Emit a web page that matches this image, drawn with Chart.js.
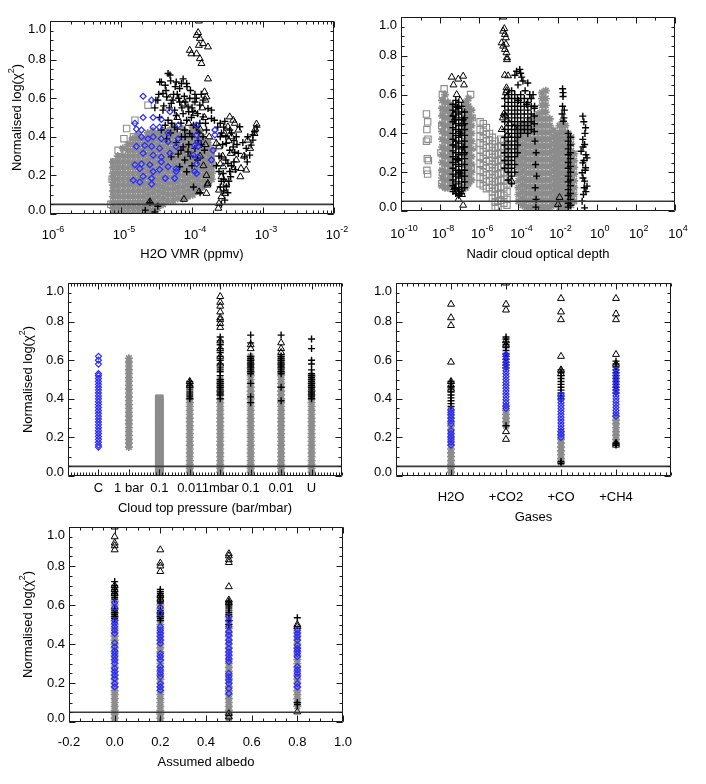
<!DOCTYPE html>
<html lang="en">
  <head>
    <meta charset="UTF-8" />
    <title>Normalised log(chi2) panels</title>
    <script src="https://cdn.jsdelivr.net/npm/chart.js@4.4.1/dist/chart.umd.min.js"></script>
    <style>
      body { margin: 0; background: #fff; }
      #page { position: relative; width: 706px; height: 784px; background: #fff; }
      #page canvas { position: absolute; left: 0; top: 0; }
    </style>
  </head>
  <body>
    <div id="page">
      <canvas id="p1" width="706" height="784"></canvas>
      <canvas id="p2" width="706" height="784"></canvas>
      <canvas id="p3" width="706" height="784"></canvas>
      <canvas id="p4" width="706" height="784"></canvas>
      <canvas id="p5" width="706" height="784"></canvas>
    </div>

    <script>
      // ---- shared axis values ----
      const yTickVals = [0, 0.2, 0.4, 0.6, 0.8, 1.0];
      const yTickText = ["0.0", "0.2", "0.4", "0.6", "0.8", "1.0"];
      const refLineY = 0.05;

      // ---- panel 1 : H2O VMR ----
      const p1XTicks = [1e-6, 1e-5, 1e-4, 1e-3, 1e-2];
      const p1XExp = ["-6", "-5", "-4", "-3", "-2"];
      const p1Blue = [
        [2.05e-5,.61],[2.7e-5,.59],[2.05e-5,.50],[2.84e-5,.50],[3.7e-5,.49],[4.9e-5,.53],[1.57e-5,.47],[1.65e-5,.44],
        [1.94e-5,.435],[2.84e-5,.45],[3.5e-5,.45],[4.6e-5,.42],[6.4e-5,.46],[1.16e-4,.46],[2.1e-4,.435],[2.1e-4,.41],
        [1.94e-5,.40],[2.4e-5,.39],[2.84e-5,.40],[3.7e-5,.39],[4.6e-5,.375],[6.4e-5,.39],[1.16e-4,.41],[1.22e-4,.375],
        [1.65e-5,.35],[2.16e-5,.355],[2.7e-5,.35],[3.5e-5,.34],[6.0e-5,.35],[1.09e-4,.355],[1.22e-4,.35],[1.98e-4,.33],
        [2.05e-5,.315],[2.84e-5,.305],[3.7e-5,.295],[4.9e-5,.315],[1.04e-4,.305],[1.22e-4,.295],[1.57e-5,.255],[1.94e-5,.26],
        [2.55e-5,.255],[3.7e-5,.27],[4.6e-5,.245],[6.0e-5,.235],[1.16e-4,.26],[1.88e-4,.28],[1.84e-5,.235],[2.84e-5,.22],
        [3.5e-5,.23],[6.0e-5,.22],[1.09e-4,.22],[2.05e-5,.195],[2.7e-5,.185],[4.2e-5,.185],[1.49e-5,.175],[1.84e-5,.165],
        [2.7e-5,.155],[5.7e-5,.185],[1.16e-4,.21]
      ];
      const p1Tri = [
        [1.25e-4,1.0],[1.22e-4,.94],[1.16e-4,.926],[1.29e-4,.91],[1.25e-4,.874],[1.43e-4,.883],[1.68e-4,.866],[9.3e-5,.848],
        [9.8e-5,.83],[1.16e-4,.83],[1.29e-4,.805],[1.36e-4,.78],[1.68e-4,.70],[1.5e-4,.633],[1.6e-4,.607],[1.55e-4,.59],
        [1.4e-4,.55],[1.1e-4,.52],[1.5e-4,.50],[9e-5,.47],[1.3e-4,.44],[6.2e-5,.50],[7.5e-5,.57],[4.8e-5,.60],
        [1.75e-4,.40],[1.55e-4,.36],[1.3e-4,.30],[1.45e-4,.25],[1.6e-4,.20],[2.55e-5,.064],[7.7e-5,.076],[1.26e-4,.115],
        [1.6e-4,.107],[1.67e-4,.159],[2.2e-4,.366],[1.65e-4,.15],[3.4e-4,.503],[3.8e-4,.486],[4.0e-4,.47],[3.2e-4,.452],
        [2.9e-4,.417],[4.5e-4,.435],[2.4e-4,.348],[3.5e-4,.314],[4.2e-4,.28],[2.75e-4,.245],[3.8e-4,.228],[2.6e-4,.193],
        [3.05e-4,.159],[2.4e-4,.124],[2.9e-4,.107],[2.6e-4,.09],[2.4e-4,.055],[2.35e-4,.03],[3.3e-4,.38],[2.7e-4,.30],
        [3.6e-4,.40],[2.5e-4,.26],[8.1e-4,.466],[7.6e-4,.417],[4.9e-4,.236],[5.8e-4,.228],[4.8e-4,.193],[6.1e-4,.383],
        [7.8e-4,.44],[6.6e-4,.34],[5.4e-4,.30]
      ];
      const p1Plus = [
        [4.6e-5,.728],[3.7e-5,.684],[6.0e-5,.684],[6.7e-5,.65],[9.3e-5,.60],[3.3e-5,.59],[4.4e-5,.607],[5.1e-5,.573],
        [6.7e-5,.58],[8.8e-5,.555],[1.29e-4,.564],[1.68e-4,.547],[3.9e-5,.538],[5.7e-5,.538],[7.5e-5,.52],[1.03e-4,.53],
        [1.43e-4,.503],[1.88e-4,.495],[4.6e-5,.486],[8.4e-5,.486],[1.29e-4,.47],[3.7e-5,.435],[5.7e-5,.45],[7.9e-5,.435],
        [1.6e-4,.435],[4.4e-5,.39],[7.1e-5,.40],[9.3e-5,.417],[1.43e-4,.40],[7.5e-5,.348],[8.8e-5,.322],[7.9e-5,.28],
        [5.1e-5,.296],[6.7e-5,.245],[8.4e-5,.219],[3.5e-5,.684],[4.2e-5,.667],[4.9e-5,.72],[5.0e-5,.69],[7.1e-5,.676],
        [8.4e-5,.676],[1.43e-4,.59],[1.88e-4,.538],[2.07e-4,.486],[3.9e-5,.624],[3.1e-5,.59],[5.4e-5,.59],[6.2e-5,.62],
        [7.8e-5,.61],[1.1e-4,.58],[1.2e-4,.52],[9.8e-5,.50],[6.0e-5,.51],[5.2e-5,.47],[1.15e-4,.45],[1.0e-4,.40],
        [1.22e-4,.38],[6.0e-5,.37],[1.1e-4,.34],[1.2e-4,.28],[1.0e-4,.25],[6.4e-5,.31],[2.55e-5,.06],[3.3e-5,.04],
        [3.0e-5,.01],[1.05e-4,.14],[1.3e-4,.11],[2.2e-5,.02],[3.4e-4,.435],[4.7e-4,.452],[4.2e-4,.40],[3.05e-4,.366],
        [3.8e-4,.348],[2.6e-4,.296],[4.5e-4,.314],[3.2e-4,.262],[2.75e-4,.21],[3.5e-4,.193],[3.05e-4,.141],[2.9e-4,.072],
        [2.5e-4,.47],[2.8e-4,.45],[3.9e-4,.38],[3.4e-4,.33],[2.5e-4,.40],[3.9e-4,.27],[2.6e-4,.17],[3.2e-4,.11],
        [2.4e-4,.22],[4.1e-4,.23],[2.7e-4,.36],[6.1e-4,.40],[7.2e-4,.41],[6.8e-4,.357],[5.8e-4,.34],[6.5e-4,.305],
        [5.5e-4,.296],[7.2e-4,.383],[7.6e-4,.426],[5.2e-4,.37],[8.2e-4,.45],[6.0e-4,.27],
        [4.0e-5,.56],[4.8e-5,.55],[5.5e-5,.62],[6.5e-5,.60],[7.2e-5,.55],[8.0e-5,.58],[9.0e-5,.53],[1.0e-4,.55],
        [1.1e-4,.62],[9.5e-5,.64],[8.5e-5,.66],[7.5e-5,.70],[5.8e-5,.66],[4.3e-5,.64],[3.4e-5,.62],[3.0e-5,.55],
        [3.5e-5,.50],[4.2e-5,.46],[5.0e-5,.42],[6.2e-5,.44],[7.0e-5,.47],[8.0e-5,.40],[9.0e-5,.36],[1.05e-4,.46],
        [1.25e-4,.42],[1.35e-4,.36],[1.5e-4,.33],[9.5e-5,.30],[7.0e-5,.33],[1.15e-4,.60],[1.35e-4,.62],[1.55e-4,.47],
        [2.3e-4,.45],[2.6e-4,.42],[3.0e-4,.40],[3.6e-4,.42],[4.3e-4,.36],[2.4e-4,.30],[3.0e-4,.28],[3.6e-4,.25],
        [2.8e-4,.18],[3.3e-4,.17],[2.5e-4,.14],[2.8e-4,.12],[2.6e-4,.05],[3.4e-4,.22],[2.2e-4,.25],[4.0e-4,.32],[2.9e-4,.48]
      ];
      const p1Sq = [
        [1.2e-5,.443],[1.5e-5,.40],[1.45e-5,.38],[1.57e-5,.486],[9.1e-6,.33],[9.7e-6,.236],[2.4e-5,.564],[9.3e-5,.58],
        [1.95e-4,.34],[1.85e-4,.305],[8e-6,.27],[7.5e-6,.18],[8.2e-6,.12],[7.2e-6,.05],[1.1e-5,.39],[1.35e-5,.35],
        [2.0e-4,.37],[1.8e-4,.26]
      ];
      const p1GreyX = [7.7e-6, 9.0e-6, 1.06e-5, 1.25e-5, 1.47e-5, 1.73e-5, 2.03e-5, 2.39e-5, 2.8e-5, 3.3e-5, 3.9e-5,
        4.6e-5, 5.4e-5, 6.3e-5, 7.4e-5, 8.7e-5, 1.02e-4, 1.2e-4, 1.42e-4, 1.67e-4, 1.9e-4];
      const p1GreyY = [
        [0,.03,.06,.09,.12,.15,.18,.21,.24,.27],
        [0,.03,.06,.09,.12,.15,.18,.21,.24,.27,.30],
        [0,.03,.06,.09,.12,.15,.18,.21,.24,.27,.30,.34],
        [0,.03,.06,.09,.12,.15,.18,.21,.24,.27,.30,.33,.36],
        [0,.03,.06,.09,.12,.15,.18,.21,.24,.27,.30,.33,.36,.39],
        [0,.03,.06,.09,.12,.15,.18,.21,.24,.27,.30,.33,.36,.39,.41],
        [0,.03,.06,.09,.12,.15,.18,.21,.24,.27,.30,.33,.36,.39],
        [.01,.04,.07,.10,.13,.16,.19,.22,.25,.28,.31,.34,.37,.40,.42],
        [.02,.05,.08,.11,.14,.17,.20,.23,.26,.29,.32,.35,.38,.41,.43],
        [.03,.06,.09,.12,.15,.18,.21,.24,.27,.30,.33,.36,.39,.42],
        [.05,.08,.11,.14,.17,.20,.23,.26,.29,.32,.35,.38,.41,.43],
        [.07,.10,.13,.16,.19,.22,.25,.28,.31,.34,.37,.40,.43],
        [.07,.10,.13,.16,.19,.22,.25,.28,.31,.34,.37,.40,.43,.45],
        [.08,.11,.14,.17,.20,.23,.26,.29,.32,.35,.38,.41],
        [.08,.11,.14,.17,.20,.23,.26,.29,.32,.35,.38,.41,.44],
        [.09,.12,.15,.18,.21,.24,.27,.30,.33,.36,.39,.42],
        [.10,.13,.16,.19,.22,.25,.28,.31,.34,.37,.40,.43,.45],
        [.12,.15,.18,.21,.24,.27,.30,.33,.36,.39,.42,.44],
        [.14,.17,.20,.23,.26,.29,.32,.35,.38,.40],
        [.16,.19,.22,.25,.28,.31,.34,.37],
        [.18,.21,.24,.27,.30,.33]
      ];

      // ---- panel 2 : nadir cloud optical depth ----
      const p2XTicks = [1e-10, 1e-8, 1e-6, 1e-4, 1e-2, 1, 1e2, 1e4];
      const p2XExp = ["-10", "-8", "-6", "-4", "-2", "0", "2", "4"];
      const p2Sq = [
        [2.0e-9,.50],[2.3e-9,.46],[2.1e-9,.42],[2.4e-9,.37],[2.0e-9,.36],[2.2e-9,.27],[2.5e-9,.26],[2.1e-9,.21],[2.3e-9,.19],
        [1.3e-8,.60],[1.5e-8,.52],[1.2e-8,.44],[1.1e-8,.30],[1.3e-8,.20],[3.6e-7,.60],[4.3e-7,.48],[4.6e-7,.33],[3.8e-7,.22],
        [1.6e-8,.63],[1.2e-8,.14]
      ];
      const p2SqX = [1.1e-6, 1.6e-6, 2.3e-6, 3.3e-6, 4.7e-6, 6.5e-6, 9e-6, 1.25e-5, 1.8e-5, 2.6e-5];
      const p2SqY = [
        [.46,.42,.385,.35,.315,.28,.245,.21,.175,.14],
        [.45,.41,.375,.34,.305,.27,.235,.20,.165,.13],
        [.43,.395,.36,.325,.29,.255,.22,.185,.15,.115],
        [.40,.365,.33,.295,.26,.225,.19,.155,.12],
        [.38,.345,.31,.275,.24,.205,.17,.135,.10,.065],
        [.36,.325,.29,.255,.22,.185,.15,.115,.08,.045,.02],
        [.33,.295,.26,.225,.19,.155,.12,.085,.05,.02],
        [.37,.335,.30,.265,.23,.195,.16,.125,.09,.055],
        [.36,.32,.28,.24,.20,.16,.12,.08,.04],
        [.34,.30,.26,.22,.18,.14,.10,.06,.03]
      ];
      const p2GreyX = [1.26e-8, 1.78e-8, 2.5e-8, 3.5e-8, 2.0e-7, 2.8e-7, 4.0e-7,
        1.0e-4, 1.6e-4, 2.5e-4, 4.0e-4, 6.3e-4, 1.0e-3, 1.6e-3, 2.5e-3, 4.0e-3, 6.3e-3,
        8.9e-3, 1.26e-2, 1.78e-2, 2.5e-2, 3.5e-2, 5.0e-2, 7.1e-2];
      const p2GreyY = [
        [.13,.17,.21,.25,.29,.33,.37,.41,.45,.49,.53,.57],
        [.12,.16,.20,.24,.28,.32,.36,.40,.44,.48,.52,.56,.60],
        [.12,.16,.20,.24,.28,.32,.36,.40,.44,.48,.52,.56],
        [.14,.18,.22,.26,.30,.34,.38,.42,.46,.50,.54],
        [.12,.16,.20,.24,.28,.32,.36,.40,.44,.48,.52,.56],
        [.14,.18,.22,.26,.30,.34,.38,.42,.46,.50,.54,.58],
        [.16,.20,.24,.28,.32,.36,.40,.44,.48,.52],
        [.05,.085,.12,.155,.19,.225,.26,.295,.33,.365,.40,.435],
        [.03,.065,.10,.135,.17,.205,.24,.275,.31,.345,.38,.415,.45],
        [.02,.055,.09,.125,.16,.195,.23,.265,.30,.335,.37,.405,.44],
        [.02,.055,.09,.125,.16,.195,.23,.265,.30,.335,.37,.405,.44,.47],
        [.02,.055,.09,.125,.16,.195,.23,.265,.30,.335,.37,.405,.44,.475],
        [.02,.055,.09,.125,.16,.195,.23,.265,.30,.335,.37,.405,.44,.475,.50],
        [.02,.055,.09,.125,.16,.195,.23,.265,.30,.335,.37,.405,.44,.475,.51,.545,.58,.61],
        [.02,.055,.09,.125,.16,.195,.23,.265,.30,.335,.37,.405,.44,.475,.51,.545,.58,.62],
        [.02,.055,.09,.125,.16,.195,.23,.265,.30,.335,.37,.405,.44,.475],
        [.03,.065,.10,.135,.17,.205,.24,.275,.31,.345,.38,.415],
        [.04,.075,.11,.145,.18,.215,.25,.285,.32,.355,.39],
        [.02,.055,.09,.125,.16,.195,.23,.265,.30,.335,.37,.405,.44],
        [.02,.055,.09,.125,.16,.195,.23,.265,.30,.335,.37,.405,.44,.46],
        [.02,.055,.09,.125,.16,.195,.23,.265,.30,.335,.37,.405,.44],
        [.02,.055,.09,.125,.16,.195,.23,.265,.30,.335,.37,.40],
        [.03,.065,.10,.135,.17,.205,.24,.275,.31,.345,.38],
        [.05,.085,.12,.155,.19,.225,.26,.295]
      ];
      const p2PlusX = [4.5e-8, 6.3e-8, 8.9e-8, 1.26e-7, 1.78e-7, 2.0e-5, 3.0e-5, 4.5e-5, 6.5e-5, 9.0e-5,
        1.3e-4, 2.0e-4, 3.0e-4, 4.5e-4, 6.5e-4, 3.5e-2, 4.5e-2];
      const p2PlusY = [
        [.10,.13,.16,.19,.22,.25,.28,.31,.34,.37,.40,.43,.46,.49,.52,.55],
        [.09,.12,.15,.18,.21,.24,.27,.30,.33,.36,.39,.42,.45,.48,.51,.54,.57],
        [.08,.11,.14,.17,.20,.23,.26,.29,.32,.35,.38,.41,.44,.47,.50,.53,.56],
        [.09,.12,.15,.18,.21,.24,.27,.30,.33,.36,.39,.42,.45,.48,.51,.54],
        [.12,.15,.18,.21,.24,.27,.30,.33,.36,.39,.42,.45,.48,.51],
        [.22,.26,.30,.34,.38,.42,.46,.50,.54,.58],
        [.16,.20,.24,.28,.32,.36,.40,.44,.48,.52,.56,.60],
        [.14,.18,.22,.26,.30,.34,.38,.42,.46,.50,.54,.58,.62],
        [.20,.24,.28,.32,.36,.40,.44,.48,.52,.56,.60],
        [.30,.34,.38,.42,.46,.50,.54,.58],
        [.40,.44,.48,.52,.56,.60],
        [.42,.46,.50,.54,.58],
        [.40,.44,.48,.52,.56],
        [.42,.46,.50,.54,.58],
        [.41,.45,.49,.53],
        [.40,.36,.32,.29,.25,.22,.18,.15,.11,.08,.04,.02],
        [.38,.34,.30,.27,.23,.20,.16,.13,.09,.06,.03]
      ];
      const p2Plus = [
        [6.6e-5,.70],[1.17e-4,.73],[1.45e-4,.69],[1.7e-4,.67],[9.5e-5,.65],[3.8e-4,.60],[5.6e-4,.60],[6.7e-4,.54],
        [2.6e-4,.55],[1e-4,.57],[2.2e-4,.62],[3e-4,.66],[8e-5,.72],[1.3e-4,.71],[7e-4,.36],[8e-4,.30],[7.5e-4,.24],
        [8.5e-4,.18],[7.2e-4,.12],[8e-4,.06],[7.8e-4,.02],[1.9e-2,.61],[1.9e-2,.59],[1.8e-2,.54],[1.7e-2,.50],
        [2.1e-2,.48],[2.0e-2,.463],[1.8e-2,.63],[2.2e-2,.52],[.195,.489],[.27,.429],[.195,.369],[.24,.343],[.16,.308],
        [.32,.274],[.195,.248],[.27,.223],[.18,.197],[.24,.154],[.32,.128],[.21,.085],[.18,.05],[.24,.016],[.22,.46],
        [.25,.40],[.2,.33],[.28,.29],[.22,.26],[.26,.21],[.2,.17],[.28,.10],[.23,.12],
        [5.5e-8,.115],[7.5e-8,.265],[1.05e-7,.40],[5.5e-8,.47],[7.5e-8,.535],[1.05e-7,.195],[1.5e-7,.33],[1.5e-7,.47]
      ];
      const p2Tri = [
        [1.7e-5,1.0],[1.66e-5,.927],[2.04e-5,.91],[2.3e-5,.893],[1.38e-5,.867],[1.66e-5,.85],[2.04e-5,.833],[2.45e-5,.816],
        [2.6e-5,.79],[2.3e-5,.86],[1.9e-5,.94],[2.6e-5,.78],[2.0e-5,.70],[2.96e-5,.697],[2.45e-5,.635],[2.3e-5,.61],
        [2.6e-5,.59],[2.5e-5,.62],[3.9e-8,.69],[8.5e-8,.68],[1.5e-7,.695],[1.65e-7,.65],[4.8e-8,.65],[7e-8,.60],
        [1.05e-7,.57],[5.2e-8,.12],[7e-8,.10],[9e-8,.094],[1.3e-7,.085],[8.5e-8,.06],[1.1e-7,.11],[5e-8,.5],
        [1.4e-7,.45],[6e-8,.35],[1.6e-7,.30],[9e-8,.2],[1.6e-5,.48],[2.2e-5,.49],[1.8e-5,.50],[2.8e-5,.39],
        [4.5e-5,.154],[3.5e-5,.45],[1.4e-5,.42],[6e-5,.43],[1.05e-2,.034],[1.26e-2,.07],[1.5e-7,.03]
      ];

      // ---- panel 3 : cloud top pressure ----
      const p3Cats = ["C", "1 bar", "0.1", "0.01", "1mbar", "0.1", "0.01", "U"];
      const p3Blue = [
        [.62,.60,.58,.53,.52,.505,.49,.475,.46,.445,.43,.415,.40,.385,.37,.355,.34,.325,.31,.295,.28,.265,.25,.235,.22,.205,.19,.175,.16,.15],
        [], [], [], [], [], [], []
      ];
      const p3Grey = [
        [],
        [.15,.17,.19,.21,.23,.25,.27,.29,.31,.33,.35,.37,.39,.41,.43,.45,.47,.49,.51,.53,.55,.57,.59,.61],
        [],
        [0,.02,.04,.06,.08,.10,.12,.14,.16,.18,.20,.22,.24,.26,.28,.30,.32,.34,.36,.38,.40],
        [0,.02,.04,.06,.08,.10,.12,.14,.16,.18,.20,.22,.24,.26,.28,.30,.32,.34,.36,.38,.40,.42,.44,.46,.48,.50],
        [0,.02,.04,.06,.08,.10,.12,.14,.16,.18,.20,.22,.24,.26,.28,.30,.32,.34,.36,.38,.40,.42,.44,.46,.48,.50,.52,.54,.56,.58,.60,.62],
        [0,.02,.04,.06,.08,.10,.12,.14,.16,.18,.20,.22,.24,.26,.28,.30,.32,.34,.36,.38,.40,.42,.44,.46,.48,.50,.52,.54,.56,.58,.60,.62],
        [0,.02,.04,.06,.08,.10,.12,.14,.16,.18,.20,.22,.24,.26,.28,.30,.32,.34,.36,.38,.40,.42,.44,.46,.48,.50,.52]
      ];
      const p3Solid = [
        [], [],
        [0,.02,.04,.06,.08,.10,.12,.14,.16,.18,.20,.22,.24,.26,.28,.30,.32,.34,.36,.38,.40],
        [], [], [], [], []
      ];
      const p3Plus = [
        [], [], [],
        [.49,.48,.47,.46,.45,.44,.43,.42,.41,.40],
        [1.0,.72,.70,.68,.66,.64,.62,.60,.58,.56,.55,.54,.52,.50,.49,.48,.47,.46,.45,.44,.43,.42,.40],
        [.73,.69,.62,.61,.60,.59,.58,.57,.56,.55,.54,.53,.48,.41,.38],
        [.73,.62,.61,.60,.59,.58,.57,.56,.55,.54,.53,.46,.39],
        [.71,.66,.60,.58,.55,.53,.52,.51,.50,.49,.48,.47,.46,.45,.44,.43,.42,.41,.40]
      ];
      const p3Tri = [
        [], [], [],
        [.49,.47],
        [.93,.90,.88,.85,.82,.81,.79,.77,.70,.66,.62,.58],
        [.68,.66],
        [.69,.66,.64],
        []
      ];

      // ---- panel 4 : gases ----
      const p4Cats = ["H2O", "+CO2", "+CO", "+CH4"];
      const p4Grey = [
        [0,.02,.04,.06,.08,.10,.12,.14,.16,.18,.20,.22,.24,.26,.28,.30,.32,.34],
        [.26,.28,.30,.32,.34,.36],
        [.07,.09,.11,.13,.15,.17,.19,.21,.23],
        [.17,.19,.21,.23,.25,.27,.29,.31]
      ];
      const p4Blue = [
        [.16,.175,.19,.205,.22,.235,.27,.285,.30,.315,.33,.345],
        [.35,.365,.38,.395,.41,.425,.44,.455,.47,.485,.50,.515,.53,.545,.56,.575,.59,.605,.62,.63],
        [.20,.215,.23,.245,.26,.275,.29,.305,.32,.335,.35,.365,.38,.395,.41,.42],
        [.31,.325,.34,.355,.37,.385,.40,.415,.43,.445,.46,.475,.49,.505,.52,.535,.55]
      ];
      const p4Plus = [
        [.36,.375,.39,.405,.42,.435,.45,.465,.48,.49],
        [.56,.575,.59,.605,.62,.635,.65,.665,.68,.695,.71,.72,.26],
        [.40,.415,.43,.445,.46,.475,.49,.505,.52,.535,.55,.065,.075],
        [.43,.445,.46,.475,.49,.505,.52,.535,.55,.565,.58,.595,.17,.16]
      ];
      const p4Tri = [
        [.89,.82,.78,.59,.49,.47,.45],
        [1.0,.89,.86,.70,.68,.23,.19],
        [.92,.85,.81,.62,.55,.53],
        [.92,.84,.81,.63,.58,.17,.16]
      ];

      // ---- panel 5 : assumed albedo ----
      const p5Albedo = [0.0, 0.2, 0.5, 0.8];
      const p5XTicks = [-0.2, 0.0, 0.2, 0.4, 0.6, 0.8, 1.0];
      const p5XText = ["-0.2", "0.0", "0.2", "0.4", "0.6", "0.8", "1.0"];
      const p5Grey = [
        [0,.02,.04,.06,.08,.10,.12,.14,.16,.18,.20,.22,.24,.26,.28,.30,.32,.34,.36,.38,.40,.42,.44,.46,.48,.50,.52,.54,.56,.58,.60,.62],
        [0,.02,.04,.06,.08,.10,.12,.14,.16,.18,.20,.22,.24,.26,.28,.30,.32,.34,.36,.38,.40,.42,.44,.46,.48,.50,.52,.54,.56,.58,.60],
        [0,.02,.04,.06,.08,.10,.12,.14,.16,.18,.20,.22,.24,.26,.28,.30,.32,.34,.36,.38,.40,.42,.44,.46,.48,.50,.52,.54],
        [.08,.10,.12,.14,.16,.18,.20,.22,.24,.26,.28,.30,.32,.34,.36,.38,.40,.42,.44,.46,.48]
      ];
      const p5Blue = [
        [.612,.588,.52,.506,.489,.471,.454,.406,.386,.365,.351,.335,.318,.301,.275,.258,.24,.223,.197,.18],
        [.588,.557,.489,.471,.454,.437,.42,.403,.351,.335,.318,.284,.267,.249,.232,.197,.18,.163],
        [.54,.52,.489,.463,.446,.42,.403,.377,.36,.343,.326,.309,.249,.232,.214,.197,.172,.146],
        [.471,.454,.437,.42,.394,.377,.365,.351,.335,.284,.267,.249,.232,.197,.18]
      ];
      const p5Plus = [
        [.72,.70,.69,.68,.67,.66,.65,.64,.63,.58,.57,.56,.55,.54,.53],
        [.68,.67,.66,.65,.64,.63,.62,.61,.57,.56,.55,.54,.53,.52,0],
        [.62,.61,.60,.59,.58,.57,.56,.55,.52,.50],
        [.535,.10,.09]
      ];
      const p5Tri = [
        [1.0,.95,.918,.904,.883,.70,.68,.66],
        [.883,.815,.80,.772,.65,.63],
        [.863,.852,.832,.818,.694,.626,.612,.043,.026],
        [.50,.49,.052]
      ];

      // ---- drawing helpers ----
      const FONT = '"Liberation Sans", Arial, Helvetica, sans-serif';
      const GREY = "#8c8c8c";
      const BLUE = "#2a2aff";
      const MARK = {
        tri: { pointStyle: "triangle", pointRadius: 4, pointBorderColor: "#000", pointBorderWidth: 1 },
        plus: { pointStyle: "cross", pointRadius: 3.5, pointBorderColor: "#000", pointBorderWidth: 1.4 },
        sq: { pointStyle: "rect", pointRadius: 4.5, pointBorderColor: GREY, pointBorderWidth: 1.1 },
        star: { pointStyle: "star", pointRadius: 4, pointBorderColor: GREY, pointBorderWidth: 1.7 },
        dia: { pointStyle: "rectRot", pointRadius: 3, pointBorderColor: BLUE, pointBorderWidth: 1.2 },
        solid: { pointStyle: "rect", pointRadius: 5.5, pointBorderColor: GREY, pointBackgroundColor: GREY, pointBorderWidth: 1 },
      };

      const fromPairs = (list) => list.map(([x, y]) => ({ x, y }));
      const fromCols = (xs, ys) => xs.flatMap((x, i) => ys[i].map((y) => ({ x, y })));
      const fromCats = (lists, xs) => lists.flatMap((ys, i) => ys.map((y) => ({ x: xs ? xs[i] : i + 1, y })));

      function marks(points, kind) {
        return Object.assign(
          { data: points, pointBackgroundColor: "rgba(0,0,0,0)", pointHoverRadius: 0, clip: 0 },
          MARK[kind]
        );
      }
      function refLine(x0, x1) {
        return {
          data: [{ x: x0, y: refLineY }, { x: x1, y: refLineY }],
          showLine: true, borderColor: "#3a3a3a", borderWidth: 1.6, pointRadius: 0, clip: 0,
        };
      }

      function logMinors(lo, hi) {
        const out = [];
        for (let e = lo; e < hi; e++) for (let k = 2; k <= 9; k++) out.push(k * Math.pow(10, e));
        return out;
      }
      function steps(min, max, step) {
        const out = [];
        const n = Math.round((max - min) / step);
        for (let i = 0; i <= n; i++) out.push(+(min + i * step).toFixed(4));
        return out;
      }

      function drawParts(ctx, parts, cx, cy, size) {
        const big = size + "px " + FONT;
        const small = Math.round(size * 0.72) + "px " + FONT;
        let w = 0;
        parts.forEach(([t, sup]) => { ctx.font = sup ? small : big; w += ctx.measureText(t).width; });
        let x = cx - w / 2;
        ctx.textAlign = "left";
        ctx.textBaseline = "middle";
        parts.forEach(([t, sup]) => {
          ctx.font = sup ? small : big;
          ctx.fillText(t, x, sup ? cy - size * 0.45 : cy);
          x += ctx.measureText(t).width;
        });
      }

      const yMinor = steps(0, 1, 0.05);

      function frame(cfg) {
        return {
          id: "frame",
          afterDraw(chart) {
            const ctx = chart.ctx, a = chart.chartArea;
            const sx = chart.scales.x, sy = chart.scales.y;
            ctx.save();
            ctx.strokeStyle = "#1a1a1a";
            ctx.lineWidth = 1;
            const L = Math.round(a.left) + 0.5, R = Math.round(a.right) - 0.5;
            const T = Math.round(a.top) + 0.5, B = Math.round(a.bottom) - 0.5;
            ctx.beginPath();
            ctx.rect(L, T, R - L, B - T);
            const xt = (v, len) => {
              const p = Math.round(sx.getPixelForValue(v)) + 0.5;
              ctx.moveTo(p, B); ctx.lineTo(p, B - len);
              ctx.moveTo(p, T); ctx.lineTo(p, T + len);
            };
            const yt = (v, len) => {
              const p = Math.round(sy.getPixelForValue(v)) + 0.5;
              ctx.moveTo(L, p); ctx.lineTo(L + len, p);
              ctx.moveTo(R, p); ctx.lineTo(R - len, p);
            };
            cfg.xMajor.forEach((v) => xt(v, 6));
            cfg.xMinor.forEach((v) => xt(v, 3));
            yTickVals.forEach((v) => yt(v, 6));
            yMinor.forEach((v) => yt(v, 3));
            ctx.stroke();

            ctx.fillStyle = "#000";
            ctx.font = "13px " + FONT;
            ctx.textAlign = "right";
            ctx.textBaseline = "middle";
            yTickVals.forEach((v, i) => {
              let p = sy.getPixelForValue(v);
              if (v === 1) p += 8;
              if (v === 0) p -= 4;
              ctx.fillText(yTickText[i], a.left - 4, p);
            });
            cfg.labels.forEach((lb) =>
              drawParts(ctx, lb.parts, sx.getPixelForValue(lb.v) + (cfg.labelDx || 0), a.bottom + cfg.labelDy, 13)
            );
            drawParts(ctx, [[cfg.title, false]], (a.left + a.right) / 2, a.bottom + cfg.titleDy, 13);
            if (cfg.yTitleX) {
              ctx.translate(cfg.yTitleX, (a.top + a.bottom) / 2);
              ctx.rotate(-Math.PI / 2);
              drawParts(ctx, [["Normalised log(\u03c7", false], ["2", true], [")", false]], 0, 0, 13);
            }
            ctx.restore();
          },
        };
      }

      function panel(id, cfg, datasets) {
        const W = 706, H = 784;
        new Chart(document.getElementById(id), {
          type: "scatter",
          data: { datasets },
          options: {
            responsive: false,
            animation: false,
            events: [],
            layout: { padding: { left: cfg.box[0], top: cfg.box[1], right: W - cfg.box[2], bottom: H - cfg.box[3] } },
            plugins: { legend: { display: false }, tooltip: { enabled: false } },
            scales: {
              x: { type: cfg.xType, min: cfg.xMin, max: cfg.xMax, display: false },
              y: { type: "linear", min: 0, max: 1, display: false },
            },
          },
          plugins: [frame(cfg)],
        });
      }

      // ---- build panels ----
      panel("p1", {
        box: [50, 21, 334, 214], xType: "logarithmic", xMin: 1e-6, xMax: 1e-2,
        xMajor: p1XTicks, xMinor: logMinors(-6, -2),
        labels: p1XTicks.map((v, i) => ({ v, parts: [["10", false], [p1XExp[i], true]] })),
        labelDx: 3, labelDy: 21, titleDy: 40, title: "H2O VMR (ppmv)", yTitleX: 17,
      }, [
        refLine(1e-6, 1e-2),
        marks(fromPairs(p1Blue), "dia"),
        marks(fromPairs(p1Tri), "tri"),
        marks(fromPairs(p1Plus), "plus"),
        marks(fromPairs(p1Sq), "sq"),
        marks(fromCols(p1GreyX, p1GreyY), "star"),
      ]);

      const p2Odd = [];
      for (let e = -9; e <= 3; e += 2) p2Odd.push(Math.pow(10, e));
      panel("p2", {
        box: [401, 17, 675, 211], xType: "logarithmic", xMin: 1e-10, xMax: 1e4,
        xMajor: p2XTicks, xMinor: p2Odd,
        labels: p2XTicks.map((v, i) => ({ v, parts: [["10", false], [p2XExp[i], true]] })),
        labelDx: 3, labelDy: 23, titleDy: 43, title: "Nadir cloud optical depth",
      }, [
        refLine(1e-10, 1e4),
        marks(fromPairs(p2Tri), "tri"),
        marks(fromPairs(p2Plus), "plus"),
        marks(fromCols(p2PlusX, p2PlusY), "plus"),
        marks(fromPairs(p2Sq), "sq"),
        marks(fromCols(p2SqX, p2SqY), "sq"),
        marks(fromCols(p2GreyX, p2GreyY), "star"),
      ]);

      panel("p3", {
        box: [68, 283, 342, 476], xType: "linear", xMin: 0, xMax: 9,
        xMajor: [1, 2, 3, 4, 5, 6, 7, 8], xMinor: steps(0, 9, 0.1),
        labels: p3Cats.map((t, i) => ({ v: i + 1, parts: [[t, false]] })),
        labelDy: 12, titleDy: 32, title: "Cloud top pressure (bar/mbar)", yTitleX: 28,
      }, [
        refLine(0, 9),
        marks(fromCats(p3Blue), "dia"),
        marks(fromCats(p3Tri), "tri"),
        marks(fromCats(p3Plus), "plus"),
        marks(fromCats(p3Grey), "star"),
        marks(fromCats(p3Solid), "solid"),
      ]);

      panel("p4", {
        box: [396, 283, 671, 476], xType: "linear", xMin: 0, xMax: 5,
        xMajor: [1, 2, 3, 4], xMinor: steps(0, 5, 0.1),
        labels: p4Cats.map((t, i) => ({ v: i + 1, parts: [[t, false]] })),
        labelDy: 21, titleDy: 41, title: "Gases",
      }, [
        refLine(0, 5),
        marks(fromCats(p4Blue), "dia"),
        marks(fromCats(p4Tri), "tri"),
        marks(fromCats(p4Plus), "plus"),
        marks(fromCats(p4Grey), "star"),
      ]);

      panel("p5", {
        box: [69, 527, 343, 722], xType: "linear", xMin: -0.2, xMax: 1.0,
        xMajor: p5XTicks, xMinor: steps(-0.2, 1.0, 0.05),
        labels: p5XTicks.map((v, i) => ({ v, parts: [[p5XText[i], false]] })),
        labelDy: 20, titleDy: 40, title: "Assumed albedo", yTitleX: 28,
      }, [
        refLine(-0.2, 1.0),
        marks(fromCats(p5Blue, p5Albedo), "dia"),
        marks(fromCats(p5Tri, p5Albedo), "tri"),
        marks(fromCats(p5Plus, p5Albedo), "plus"),
        marks(fromCats(p5Grey, p5Albedo), "star"),
      ]);
    </script>
  </body>
</html>
